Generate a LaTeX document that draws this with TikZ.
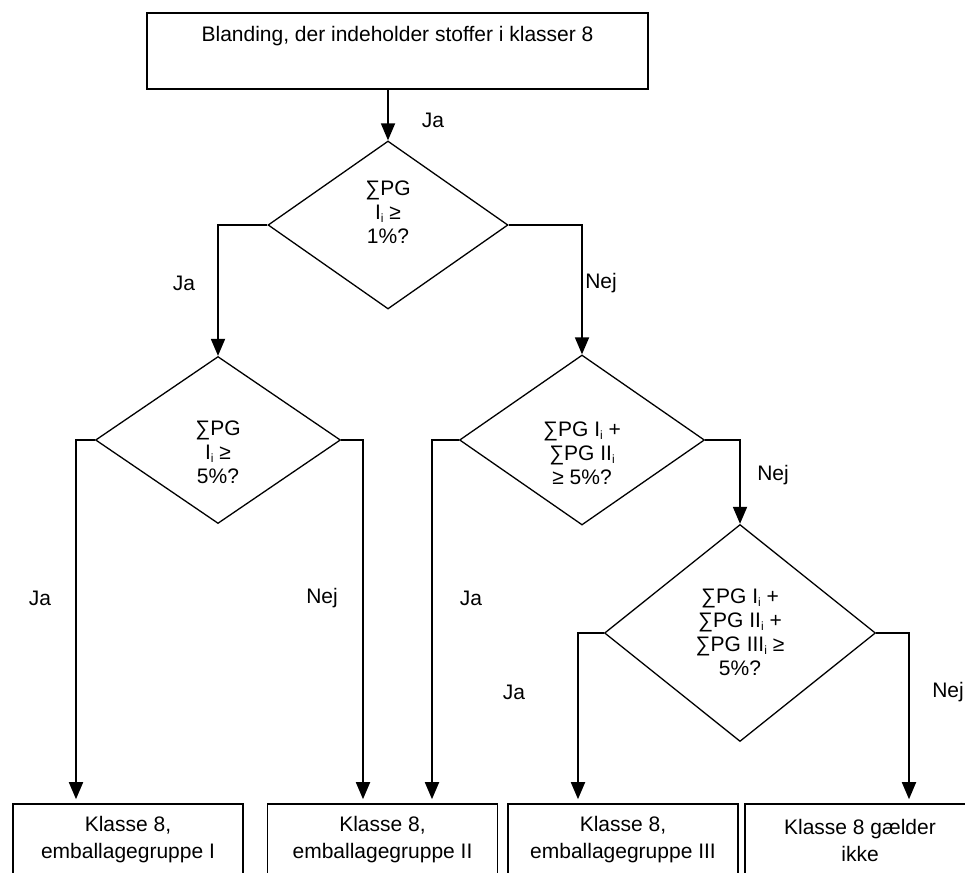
\documentclass[tikz,border=0pt]{standalone}
\usepackage{fontspec}
\setmainfont{Liberation Sans}
\usetikzlibrary{shapes.geometric,arrows.meta}
\newcommand\sbi{\raisebox{-3.5pt}{\fontsize{12}{12}\selectfont i}}
\begin{document}
\begin{tikzpicture}[x=1pt,y=-1pt,
  every node/.style={font=\fontsize{21}{24}\selectfont},
  box/.style={draw, line width=1.6pt, rectangle, inner sep=0pt, align=center},
  dia/.style={draw, diamond, line width=1.3pt, inner sep=0pt},
  txt/.style={align=center, inner sep=0pt},
  arr/.style={line width=1.8pt, -{Triangle[width=14pt,length=17pt]}},
  lab/.style={inner sep=0pt}]
\clip (0,0) rectangle (965,872);
% top box
\node[box, minimum width=501pt, minimum height=76pt] (b0) at (397.5,51) {};
\node[txt] (t0) at (397.5,36) {Blanding, der indeholder stoffer i klasser 8};
% diamonds
\node[dia, minimum width=240pt, minimum height=168pt] (d1) at (388,225) {};
\node[txt] (t1) at (388,212) {∑PG\\I\sbi{} ≥\\1\%?};
\node[dia, minimum width=245pt, minimum height=167pt] (d2) at (218,440) {};
\node[txt] (t2) at (218,452) {∑PG\\I\sbi{} ≥\\5\%?};
\node[dia, minimum width=245pt, minimum height=170pt] (d3) at (582,440) {};
\node[txt] (t3) at (582,453) {∑PG I\sbi{} +\\∑PG II\sbi{}\\≥ 5\%?};
\node[dia, minimum width=271pt, minimum height=217pt] (d4) at (740,633) {};
\node[txt] (t4) at (740,632) {∑PG I\sbi{} +\\∑PG II\sbi{} +\\∑PG III\sbi{} ≥\\5\%?};
% bottom boxes
\tikzset{endbox/.style={box, minimum width=230pt, minimum height=72pt, font=\fontsize{21}{27}\selectfont}}
\node[endbox] (b1) at (128,840) {Klasse 8,\\emballagegruppe I};
\node[endbox] (b2) at (382.5,840) {Klasse 8,\\emballagegruppe II};
\node[endbox] (b3) at (623,840) {Klasse 8,\\emballagegruppe III};
\node[endbox] (b4) at (860,840) {Klasse 8 gælder\\ikke};
% connectors
\draw[arr] (b0.south -| d1.north) -- (d1.north);
\draw[arr] (d1.west) -| (d2.north);
\draw[arr] (d1.east) -| (d3.north);
\draw[arr, shorten >=4pt] (d2.west) -| ([xshift=-52pt]b1.north);
\draw[arr, shorten >=4pt] (d2.east) -| ([xshift=-19.5pt]b2.north);
\draw[arr, shorten >=4pt] (d3.west) -| ([xshift=49.5pt]b2.north);
\draw[arr] (d3.east) -| (d4.north);
\draw[arr, shorten >=4pt] (d4.west) -| ([xshift=-45pt]b3.north);
\draw[arr, shorten >=4pt] (d4.east) -| ([xshift=49pt]b4.north);
% labels
\node[lab] (l1) at (433,120) {Ja};
\node[lab] (l2) at (184,283) {Ja};
\node[lab] (l3) at (601,283) {Nej};
\node[lab] (l4) at (40,598) {Ja};
\node[lab] (l5) at (322,598) {Nej};
\node[lab] (l6) at (471,598) {Ja};
\node[lab] (l7) at (773,475) {Nej};
\node[lab] (l8) at (514,692) {Ja};
\node[lab, anchor=east] (l9) at (964,692) {Nej};
\end{tikzpicture}
\end{document}
